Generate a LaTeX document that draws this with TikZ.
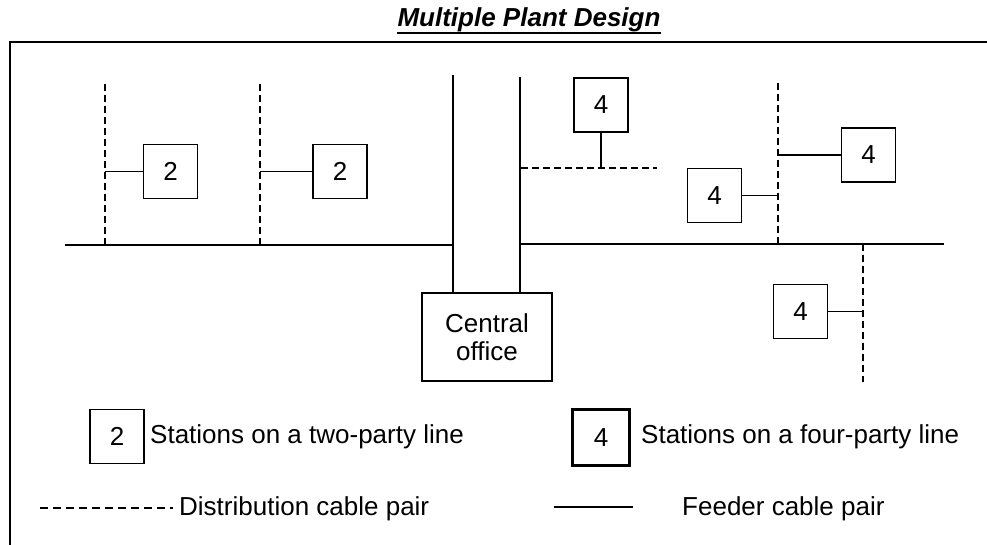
\documentclass[tikz,border=0pt]{standalone}
\usepackage{fontspec}
\setmainfont{Liberation Sans}
\usepackage{tikz}
\usetikzlibrary{positioning}

\begin{document}
\begin{tikzpicture}[x=1pt, y=-1pt, font=\fontsize{26}{28}\selectfont,
stn/.style={draw, line width=1.8pt, minimum width=54pt, minimum height=54pt, inner sep=0pt},
feed/.style={line width=1.6pt},
dist/.style={line width=1.4pt, dash pattern=on 7pt off 4pt},
lbl/.style={anchor=base west, inner sep=0pt}]
\useasboundingbox (0,0) rectangle (987,545);
% frame and title
\draw[line width=1.8pt] (10,545) -- (10,42) -- (987,42);
\node[anchor=base, inner sep=0pt, font=\fontsize{26}{28}\selectfont\bfseries\itshape] (title) at (529,27) {Multiple Plant Design};
\draw[line width=2pt] ([yshift=-6pt]title.base west) -- ([yshift=-6pt]title.base east);
% central office and feeder cables
\node[draw, line width=1.8pt, minimum width=130pt, minimum height=88pt, align=center, inner sep=0pt] (co) at (487,337) {Central\\office};
\draw[feed] (453,75) -- (453,0 |- co.north);
\draw[feed] (520,77) -- (520,0 |- co.north);
\draw[feed] (65,245) -- (453,245);
\draw[feed] (520,244) -- (944,244);
% two-party stations
\node[stn] (s2a) at (170.5,171.5) {2};
\node[stn] (s2b) at (340,171.5) {2};
\draw[dist] (105,84) -- (105,245); \draw[dist] (260,84) -- (260,245);
\draw[feed] (105,171.5) -- (s2a.west); \draw[feed] (260,171.5) -- (s2b.west);
% four-party stations
\node[stn] (s4a) at (601,105) {4};
\node[stn] (s4b) at (868.5,155) {4};
\node[stn] (s4c) at (714.5,195.5) {4};
\node[stn] (s4d) at (800.5,311.5) {4};
\draw[dist] (521,168) -- (657,168); \draw[feed] (s4a.south) -- (601,168);
\draw[dist] (778,83) -- (778,244);
\draw[feed] (778,155) -- (s4b.west); \draw[feed] (s4c.east) -- (778,195.5);
\draw[dist] (863,244) -- (863,382); \draw[feed] (s4d.east) -- (863,311.5);
% legend
\node[stn] (lg2) at (117,436.5) {2};
\node[lbl] (lg2t) at (150,443) {Stations on a two-party line};
\node[stn, line width=2.8pt, minimum width=57pt, minimum height=56pt] (lg4) at (601,437.5) {4};
\node[lbl] (lg4t) at (641,443) {Stations on a four-party line};
\coordinate (ld1) at (40,508); \coordinate (ld2) at (173,508);
\draw[dist, dash pattern=on 8pt off 5pt] (ld1) -- (ld2);
\node[lbl] (ldt) at (179,515) {Distribution cable pair};
\coordinate (lf1) at (554,507); \coordinate (lf2) at (633,507);
\draw[feed] (lf1) -- (lf2);
\node[lbl] (lft) at (682,515) {Feeder cable pair};
\end{tikzpicture}
\end{document}
